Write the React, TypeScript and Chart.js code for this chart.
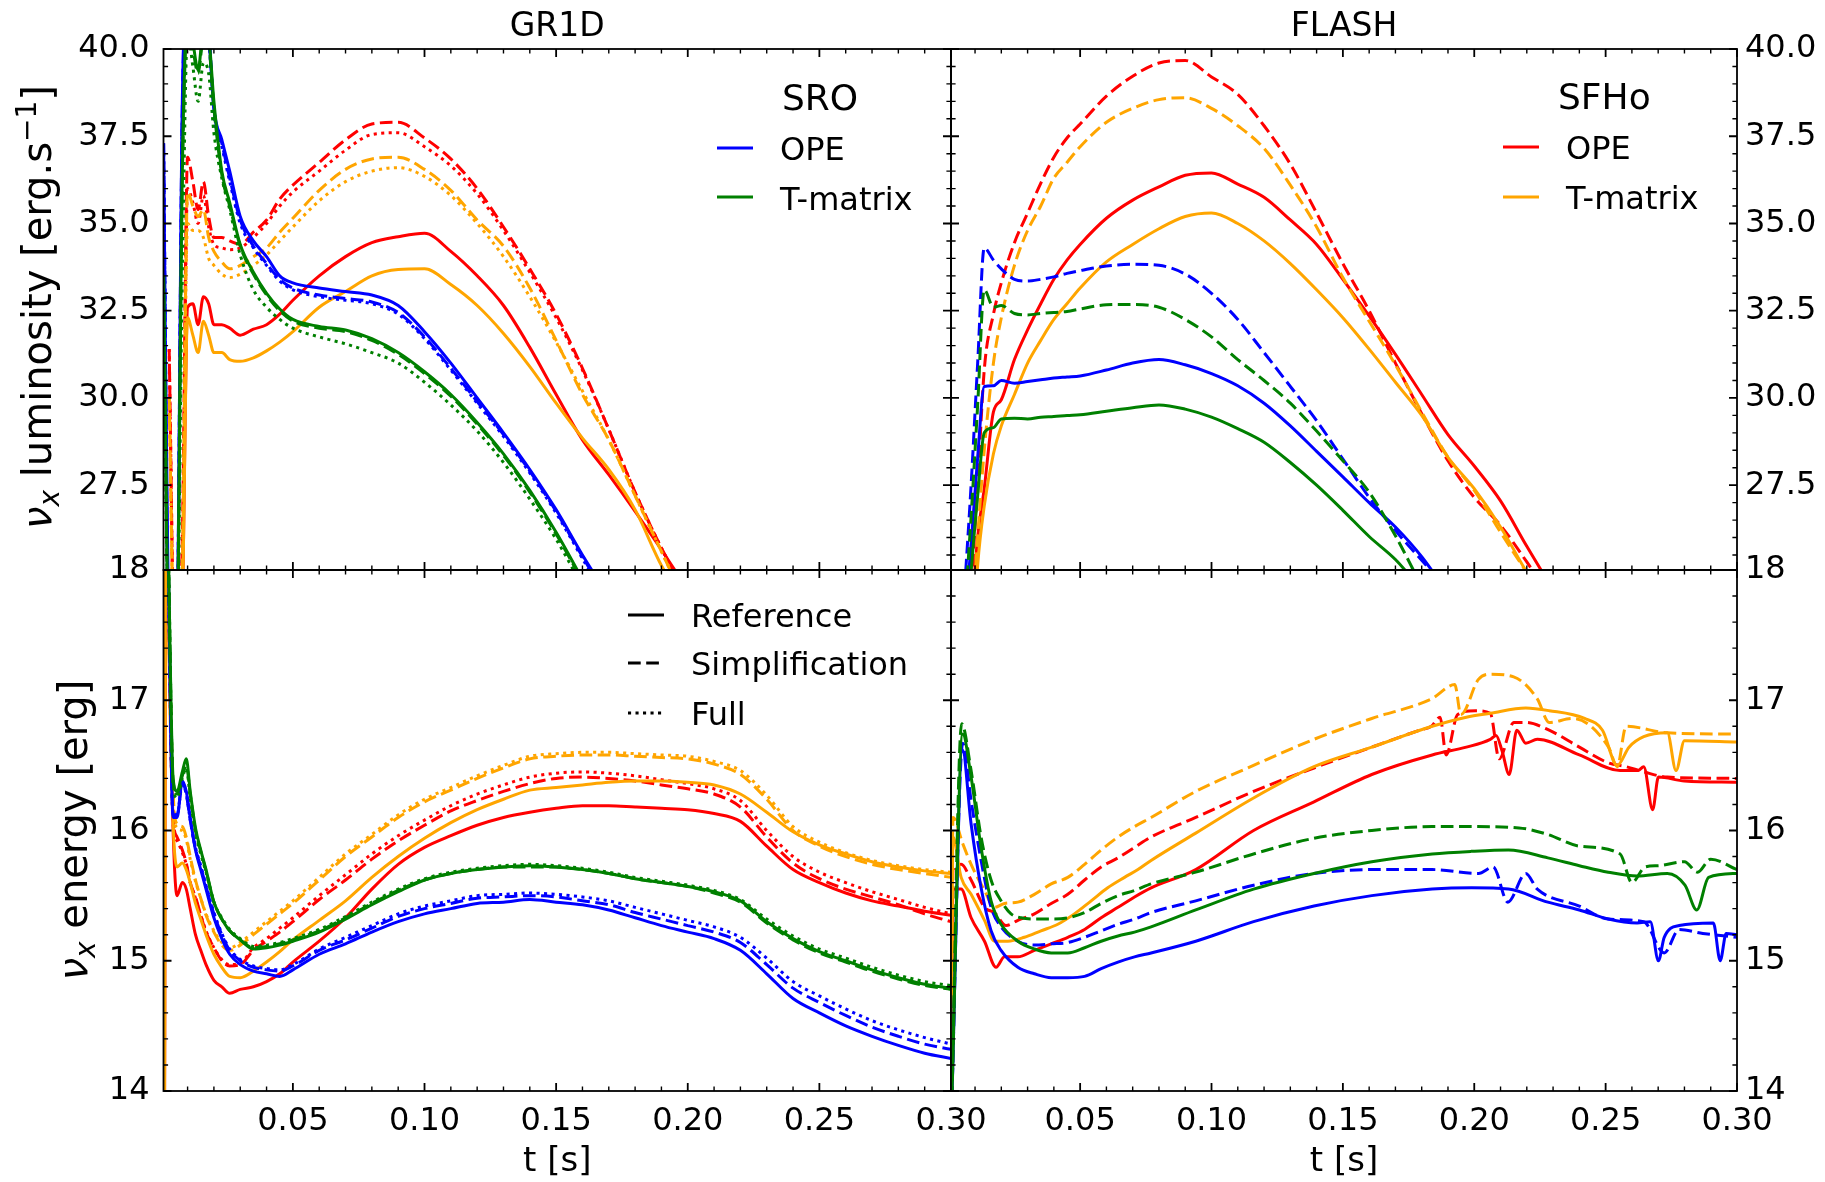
import React, { useEffect, useRef } from "react";
import { Chart, registerables } from "chart.js";
Chart.register(...registerables);

const FONT = "'DejaVu Sans', 'Noto Sans', sans-serif";
const W = 1825;
const H = 1182;

const BLUE = "#0000ff";
const GREEN = "#008000";
const RED = "#ff0000";
const ORANGE = "#ffa500";

// ---------- axes ----------
const X_MIN = 0.00085;
const X_MAX = 0.3;
const LUM_MIN = 25.07;
const LUM_MAX = 40;
const EN_MIN = 14;
const EN_MAX = 18;

const X_TICKS = [0.05, 0.1, 0.15, 0.2, 0.25, 0.3];
const X_TICK_LABELS = ["0.05", "0.10", "0.15", "0.20", "0.25", "0.30"];
const LUM_TICKS = [27.5, 30, 32.5, 35, 37.5, 40];
const LUM_TICK_LABELS = ["27.5", "30.0", "32.5", "35.0", "37.5", "40.0"];
const EN_TICKS = [14, 15, 16, 17, 18];
const EN_TICK_LABELS = ["14", "15", "16", "17", "18"];
const X_MINOR_STEP = 0.01;
const LUM_MINOR_STEP = 0.5;
const EN_MINOR_STEP = 0.2;

// ---------- GR1D luminosity ----------
const T_LUM_GR1D = [0.0009, 0.003, 0.0055, 0.008, 0.01, 0.012, 0.014, 0.016, 0.018, 0.02, 0.023, 0.026, 0.03, 0.035, 0.04, 0.045, 0.05, 0.06, 0.07, 0.08, 0.09, 0.1, 0.11, 0.12, 0.13, 0.14, 0.15, 0.16, 0.17, 0.18, 0.19, 0.2];
const LUM_G_SRO_OPE_REF = [37.3, 22, 21, 38.5, 42, 42, 42, 42, 40.5, 38.3, 37.4, 36.5, 35.2, 34.5, 34.05, 33.5, 33.3, 33.15, 33.05, 32.95, 32.65, 31.9, 31.0, 30.0, 29.0, 27.95, 26.8, 25.5, 24.3, null, null, null];
const LUM_G_SRO_OPE_SIMP = [37.3, 22, 21, 38.3, 42, 42, 42, 42, 40.6, 38.3, 37.3, 36.3, 35.1, 34.35, 33.85, 33.4, 33.15, 32.95, 32.85, 32.75, 32.45, 31.75, 30.85, 29.9, 28.95, 27.9, 26.75, 25.45, 24.2, null, null, null];
const LUM_G_SRO_OPE_FULL = [37.0, 22, 21, 38.0, 42, 42, 42, 42, 40.4, 38.1, 37.2, 36.2, 35.0, 34.3, 33.8, 33.35, 33.1, 32.9, 32.8, 32.7, 32.4, 31.7, 30.8, 29.85, 28.9, 27.85, 26.7, 25.4, 24.1, null, null, null];
const LUM_G_SRO_TM_REF = [33.5, 22, 21, 36.5, 41, 40.2, 39.4, 40.5, 40.3, 38.5, 36.5, 35.6, 34.4, 33.6, 33.0, 32.55, 32.25, 32.05, 31.95, 31.7, 31.3, 30.75, 30.1, 29.3, 28.4, 27.35, 26.15, 24.8, null, null, null, null];
const LUM_G_SRO_TM_SIMP = [33.5, 22, 21, 36.3, 40.8, 40.0, 39.3, 40.3, 40.1, 38.3, 36.4, 35.5, 34.35, 33.55, 32.95, 32.5, 32.2, 32.0, 31.9, 31.65, 31.25, 30.7, 30.05, 29.25, 28.35, 27.3, 26.1, 24.75, null, null, null, null];
const LUM_G_SRO_TM_FULL = [33.0, 22, 21, 33.5, 40.5, 39.5, 38.5, 39.6, 39.3, 37.6, 36.3, 35.4, 34.1, 33.1, 32.6, 32.25, 32.0, 31.75, 31.55, 31.3, 31.0, 30.45, 29.8, 29.05, 28.15, 27.1, 25.95, 24.6, null, null, null, null];
const LUM_G_SFHO_OPE_REF = [null, 22, 21, 24, 32.6, 32.7, 32.1, 32.9, 32.7, 32.1, 32.1, 32.0, 31.8, 31.97, 32.1, 32.4, 32.8, 33.5, 34.05, 34.45, 34.62, 34.72, 34.2, 33.5, 32.65, 31.45, 30.1, 28.8, 27.8, 26.75, 25.65, 24.5];
const LUM_G_SFHO_OPE_SIMP = [null, 31.4, 21, 26, 36.9, 36.2, 35.4, 36.2, 35.2, 34.6, 34.6, 34.5, 34.4, 34.75, 35.1, 35.7, 36.1, 36.75, 37.4, 37.85, 37.9, 37.45, 36.85, 36.0, 34.9, 33.7, 32.4, 30.85, 29.1, 27.3, 25.7, 24.3];
const LUM_G_SFHO_OPE_FULL = [null, 31.4, 21, 25, 36.0, 35.6, 35.0, 35.8, 34.9, 34.4, 34.3, 34.25, 34.3, 34.6, 35.0, 35.5, 35.9, 36.5, 37.1, 37.55, 37.6, 37.2, 36.65, 35.85, 34.8, 33.6, 32.3, 30.8, 29.1, 27.3, 25.7, 24.3];
const LUM_G_SFHO_TM_REF = [null, 22, 21, 24, 32.3, 31.8, 31.3, 32.2, 31.8, 31.3, 31.3, 31.1, 31.05, 31.15, 31.35, 31.6, 31.9, 32.6, 33.05, 33.5, 33.68, 33.7, 33.25, 32.65, 31.85, 30.9, 29.85, 28.85, 27.95, 26.8, 25.2, 24.0];
const LUM_G_SFHO_TM_SIMP = [null, 30.0, 21, 25, 35.9, 35.5, 35.2, 35.4, 34.6, 34.2, 33.9, 33.7, 33.8, 34.05, 34.3, 34.75, 35.15, 35.95, 36.55, 36.85, 36.9, 36.55, 35.95, 35.1, 34.35, 33.15, 31.65, 30.1, 28.8, 27.2, 25.6, 24.0];
const LUM_G_SFHO_TM_FULL = [null, 30.0, 21, 25, 35.0, 34.8, 34.8, 34.6, 34.0, 33.8, 33.55, 33.45, 33.55, 33.8, 34.1, 34.5, 34.9, 35.65, 36.2, 36.5, 36.6, 36.35, 35.8, 35.0, 34.05, 32.9, 31.6, 30.2, 28.8, 27.2, 25.6, 24.0];

// ---------- FLASH luminosity ----------
const T_LUM_FLASH = [0.006, 0.0085, 0.011, 0.0135, 0.017, 0.02, 0.025, 0.03, 0.035, 0.04, 0.045, 0.05, 0.06, 0.07, 0.08, 0.09, 0.1, 0.11, 0.12, 0.13, 0.14, 0.15, 0.16, 0.17, 0.18, 0.19, 0.2, 0.21, 0.22, 0.23];
const LUM_F_SRO_OPE_REF = [23.5, 25.8, 28.3, 30.33, 30.35, 30.5, 30.42, 30.47, 30.52, 30.57, 30.6, 30.63, 30.8, 31.0, 31.1, 30.95, 30.7, 30.35, 29.85, 29.2, 28.47, 27.74, 27.0, 26.3, 25.45, 24.4, null, null, null, null];
const LUM_F_SRO_OPE_SIMP = [24.5, 27.5, 31.0, 34.3, 33.95, 33.7, 33.4, 33.35, 33.4, 33.47, 33.57, 33.65, 33.78, 33.83, 33.8, 33.55, 33.0, 32.25, 31.3, 30.33, 29.35, 28.25, 27.15, 26.2, 25.35, 24.5, null, null, null, null];
const LUM_F_SRO_TM_REF = [22, 25.0, 27.2, 29.0, 29.15, 29.4, 29.42, 29.4, 29.45, 29.47, 29.5, 29.52, 29.62, 29.72, 29.8, 29.68, 29.45, 29.12, 28.73, 28.15, 27.5, 26.78, 26.03, 25.37, 24.5, null, null, null, null, null];
const LUM_F_SRO_TM_SIMP = [23.8, 26.6, 29.8, 33.1, 32.6, 32.65, 32.42, 32.38, 32.42, 32.45, 32.48, 32.55, 32.67, 32.68, 32.6, 32.25, 31.75, 31.1, 30.5, 29.85, 29.05, 28.2, 27.3, 26.05, 24.6, null, null, null, null, null];
const LUM_F_SFHO_OPE_REF = [20, 23.5, 26.0, 27.4, 29.6, 29.95, 31.1, 31.95, 32.7, 33.4, 33.95, 34.4, 35.15, 35.67, 36.05, 36.38, 36.45, 36.13, 35.75, 35.1, 34.4, 33.4, 32.35, 31.25, 30.1, 28.95, 28.05, 27.05, 25.75, 24.5];
const LUM_F_SFHO_OPE_SIMP = [21, 24.5, 27.5, 30.8, 32.4, 33.3, 34.45, 35.3, 36.15, 36.9, 37.45, 37.85, 38.65, 39.22, 39.6, 39.67, 39.2, 38.7, 37.8, 36.7, 35.3, 33.85, 32.5, 31.0, 29.55, 28.2, 27.15, 26.35, 25.3, 24.2];
const LUM_F_SFHO_TM_REF = [19, 22, 25.2, 26.9, 28.4, 29.2, 30.1, 31.0, 31.65, 32.25, 32.7, 33.15, 33.9, 34.4, 34.85, 35.2, 35.3, 35.0, 34.5, 33.85, 33.1, 32.3, 31.4, 30.45, 29.5, 28.3, 27.4, 26.3, 25.0, 23.8];
const LUM_F_SFHO_TM_SIMP = [20, 23, 26.0, 28.5, 31.0, 32.3, 33.8, 34.8, 35.5, 36.3, 36.75, 37.2, 37.9, 38.3, 38.55, 38.6, 38.3, 37.8, 37.15, 36.1, 34.9, 33.45, 32.2, 30.95, 29.6, 28.3, 27.35, 26.15, 25.0, 23.9];

// ---------- GR1D energy ----------
const T_EN_GR1D = [0.0009, 0.0012, 0.0018, 0.003, 0.0045, 0.006, 0.008, 0.0095, 0.011, 0.013, 0.015, 0.017, 0.02, 0.023, 0.026, 0.03, 0.035, 0.04, 0.045, 0.05, 0.06, 0.07, 0.08, 0.09, 0.1, 0.11, 0.12, 0.13, 0.14, 0.15, 0.16, 0.17, 0.18, 0.19, 0.2, 0.21, 0.22, 0.23, 0.24, 0.25, 0.26, 0.27, 0.28, 0.29, 0.3];
const EN_G_SRO_OPE_REF = [null, null, 19.5, 17.6, 16.1, 16.1, 16.38, 16.3, 16.1, 15.85, 15.7, 15.55, 15.33, 15.17, 15.05, 14.97, 14.92, 14.9, 14.88, 14.93, 15.05, 15.13, 15.22, 15.3, 15.36, 15.4, 15.44, 15.45, 15.47, 15.45, 15.43, 15.39, 15.33, 15.27, 15.22, 15.17, 15.08, 14.9, 14.71, 14.6, 14.5, 14.42, 14.35, 14.29, 14.25];
const EN_G_SRO_OPE_SIMP = [null, null, 19.5, 17.6, 16.12, 16.12, 16.36, 16.28, 16.08, 15.86, 15.72, 15.57, 15.36, 15.2, 15.08, 15.0, 14.95, 14.93, 14.92, 14.96, 15.08, 15.16, 15.25, 15.34, 15.4, 15.44, 15.48, 15.49, 15.5, 15.49, 15.46, 15.43, 15.37, 15.32, 15.27, 15.22, 15.14, 14.97, 14.79, 14.68, 14.58, 14.49, 14.42, 14.36, 14.32];
const EN_G_SRO_OPE_FULL = [null, null, 19.5, 17.6, 16.12, 16.12, 16.35, 16.28, 16.08, 15.87, 15.73, 15.58, 15.37, 15.21, 15.09, 15.01, 14.96, 14.94, 14.93, 14.97, 15.09, 15.18, 15.27, 15.36, 15.42, 15.46, 15.5, 15.51, 15.52, 15.51, 15.49, 15.46, 15.41, 15.36, 15.31, 15.26, 15.18, 15.02, 14.84, 14.73, 14.63, 14.54, 14.47, 14.41, 14.36];
const EN_G_SRO_TM_REF = [null, null, 19.5, 17.8, 16.4, 16.3, 16.45, 16.55, 16.3, 16.02, 15.85, 15.7, 15.45, 15.32, 15.23, 15.16, 15.09, 15.1, 15.12, 15.15, 15.22, 15.32, 15.43, 15.53, 15.62, 15.67, 15.7, 15.72, 15.73, 15.72, 15.7, 15.67, 15.63, 15.6, 15.57, 15.53, 15.46, 15.3, 15.17, 15.07, 15.0, 14.93, 14.87, 14.82, 14.79];
const EN_G_SRO_TM_SIMP = [null, null, 19.5, 17.8, 16.38, 16.28, 16.42, 16.5, 16.28, 16.0, 15.84, 15.69, 15.45, 15.32, 15.23, 15.16, 15.1, 15.11, 15.13, 15.16, 15.23, 15.33, 15.44, 15.54, 15.62, 15.67, 15.7, 15.72, 15.72, 15.72, 15.7, 15.67, 15.63, 15.6, 15.57, 15.52, 15.45, 15.29, 15.16, 15.06, 14.99, 14.92, 14.86, 14.81, 14.78];
const EN_G_SRO_TM_FULL = [null, null, 19.5, 17.8, 16.35, 16.25, 16.4, 16.48, 16.25, 15.98, 15.82, 15.68, 15.45, 15.33, 15.24, 15.17, 15.11, 15.12, 15.14, 15.17, 15.24, 15.34, 15.45, 15.55, 15.63, 15.68, 15.71, 15.73, 15.74, 15.73, 15.71, 15.68, 15.64, 15.61, 15.58, 15.54, 15.47, 15.32, 15.19, 15.09, 15.02, 14.95, 14.89, 14.84, 14.81];
const EN_G_SFHO_OPE_REF = [17.4, 13.8, 19.5, 17.4, 16.0, 15.5, 15.6, 15.55, 15.4, 15.2, 15.08, 14.97, 14.85, 14.8, 14.75, 14.78, 14.8, 14.84, 14.9, 14.99, 15.15, 15.33, 15.55, 15.74, 15.87, 15.96, 16.04, 16.1, 16.14, 16.17, 16.19, 16.19, 16.18, 16.17, 16.16, 16.13, 16.07, 15.88, 15.7, 15.6, 15.52, 15.46, 15.42, 15.38, 15.35];
const EN_G_SFHO_OPE_SIMP = [null, null, 19.5, 17.5, 16.1, 15.95, 15.85, 15.75, 15.6, 15.49, 15.35, 15.22, 15.1, 15.0, 14.96, 14.97, 15.08, 15.15, 15.22, 15.3, 15.47, 15.62, 15.78, 15.92, 16.04, 16.15, 16.23, 16.3, 16.36, 16.4, 16.41, 16.4, 16.38, 16.35, 16.32, 16.28, 16.18, 15.95, 15.75, 15.63, 15.55, 15.49, 15.43, 15.36, 15.3];
const EN_G_SFHO_OPE_FULL = [null, null, 19.5, 17.5, 16.05, 15.92, 15.83, 15.74, 15.6, 15.48, 15.35, 15.23, 15.1, 15.01, 14.97, 14.98, 15.1, 15.17, 15.25, 15.33, 15.5, 15.66, 15.82, 15.96, 16.08, 16.19, 16.28, 16.35, 16.41, 16.44, 16.45, 16.44, 16.42, 16.39, 16.36, 16.32, 16.23, 16.0, 15.8, 15.68, 15.6, 15.53, 15.47, 15.41, 15.36];
const EN_G_SFHO_TM_REF = [17.5, 13.8, 19.5, 17.3, 16.05, 15.72, 15.75, 15.7, 15.6, 15.44, 15.32, 15.2, 15.05, 14.95, 14.88, 14.87, 14.92, 14.99, 15.07, 15.16, 15.31, 15.46, 15.64, 15.8, 15.94, 16.06, 16.16, 16.24, 16.31, 16.33, 16.35, 16.37, 16.38, 16.38, 16.37, 16.35, 16.28, 16.14, 15.99, 15.89, 15.82, 15.76, 15.72, 15.69, 15.67];
const EN_G_SFHO_TM_SIMP = [null, null, 19.5, 17.6, 16.3, 16.05, 16.03, 15.95, 15.8, 15.62, 15.48, 15.35, 15.22, 15.12, 15.08, 15.12, 15.2, 15.28, 15.36, 15.44, 15.62, 15.8, 15.95, 16.1, 16.22, 16.31, 16.4, 16.48, 16.55, 16.57, 16.58, 16.58, 16.57, 16.56, 16.55, 16.51, 16.43, 16.24, 16.0, 15.88, 15.8, 15.74, 15.7, 15.67, 15.64];
const EN_G_SFHO_TM_FULL = [null, null, 19.5, 17.6, 16.25, 16.02, 16.0, 15.93, 15.78, 15.61, 15.48, 15.36, 15.23, 15.14, 15.1, 15.14, 15.22, 15.3, 15.38, 15.46, 15.64, 15.82, 15.97, 16.12, 16.24, 16.33, 16.42, 16.5, 16.57, 16.59, 16.6, 16.6, 16.59, 16.58, 16.57, 16.53, 16.46, 16.27, 16.03, 15.91, 15.83, 15.77, 15.73, 15.7, 15.68];

// ---------- FLASH energy ([t, E] pairs) ----------
const EN_F_SRO_OPE_REF = [[0.001, 13.8], [0.0052, 16.62], [0.0085, 16.05], [0.0123, 15.56], [0.0161, 15.23], [0.0199, 15.08], [0.0263, 14.95], [0.0326, 14.9], [0.039, 14.87], [0.0453, 14.87], [0.0517, 14.88], [0.058, 14.94], [0.0644, 14.99], [0.0707, 15.03], [0.077, 15.06], [0.094, 15.15], [0.116, 15.3], [0.139, 15.42], [0.161, 15.5], [0.184, 15.55], [0.199, 15.56], [0.213, 15.55], [0.228, 15.45], [0.24, 15.39], [0.251, 15.32], [0.262, 15.29], [0.267, 15.3], [0.2701, 15.0], [0.2723, 15.18], [0.278, 15.27], [0.291, 15.29], [0.2936, 15.0], [0.2959, 15.21], [0.3, 15.2]];
const EN_F_SRO_OPE_SIMP = [[0.001, 13.8], [0.0053, 16.67], [0.0085, 16.23], [0.0123, 15.77], [0.0161, 15.41], [0.0199, 15.26], [0.0263, 15.15], [0.0326, 15.12], [0.039, 15.13], [0.0453, 15.14], [0.0517, 15.18], [0.058, 15.23], [0.0644, 15.28], [0.0707, 15.32], [0.077, 15.37], [0.094, 15.46], [0.116, 15.58], [0.139, 15.67], [0.161, 15.7], [0.184, 15.7], [0.2016, 15.67], [0.2072, 15.72], [0.2128, 15.45], [0.2196, 15.67], [0.224, 15.55], [0.24, 15.42], [0.251, 15.32], [0.2645, 15.3], [0.2723, 15.06], [0.278, 15.24], [0.287, 15.21], [0.3, 15.18]];
const EN_F_SRO_TM_REF = [[0.001, 13.8], [0.0053, 16.74], [0.0085, 16.41], [0.0123, 15.87], [0.0161, 15.46], [0.0199, 15.28], [0.0263, 15.15], [0.0326, 15.09], [0.039, 15.06], [0.0453, 15.06], [0.0517, 15.1], [0.058, 15.15], [0.0644, 15.19], [0.0707, 15.22], [0.077, 15.26], [0.094, 15.39], [0.116, 15.55], [0.139, 15.67], [0.161, 15.76], [0.184, 15.82], [0.199, 15.84], [0.213, 15.85], [0.228, 15.79], [0.24, 15.73], [0.251, 15.68], [0.262, 15.65], [0.2735, 15.67], [0.2802, 15.58], [0.2847, 15.39], [0.2892, 15.64], [0.3, 15.67]];
const EN_F_SRO_TM_SIMP = [[0.001, 13.8], [0.0049, 16.82], [0.0085, 16.46], [0.0123, 15.95], [0.0161, 15.62], [0.0199, 15.46], [0.0237, 15.36], [0.0275, 15.33], [0.0339, 15.32], [0.039, 15.32], [0.0453, 15.33], [0.0517, 15.37], [0.058, 15.44], [0.0644, 15.5], [0.0707, 15.54], [0.077, 15.59], [0.094, 15.68], [0.116, 15.82], [0.139, 15.94], [0.161, 16.0], [0.184, 16.03], [0.199, 16.03], [0.217, 16.02], [0.228, 15.97], [0.24, 15.88], [0.2555, 15.82], [0.26, 15.6], [0.265, 15.72], [0.27, 15.73], [0.28, 15.76], [0.285, 15.68], [0.29, 15.78], [0.3, 15.7]];
const EN_F_SFHO_OPE_REF = [[0.0009, 13.8], [0.0016, 15.55], [0.0047, 15.55], [0.0085, 15.33], [0.0136, 15.15], [0.018, 14.95], [0.0212, 15.03], [0.0263, 15.03], [0.0326, 15.08], [0.039, 15.13], [0.0453, 15.18], [0.0517, 15.24], [0.058, 15.33], [0.0644, 15.41], [0.0707, 15.49], [0.077, 15.56], [0.094, 15.7], [0.116, 16.0], [0.139, 16.22], [0.161, 16.43], [0.184, 16.58], [0.197, 16.64], [0.2061, 16.7], [0.2083, 16.73], [0.2106, 16.61], [0.2133, 16.43], [0.2162, 16.77], [0.2196, 16.67], [0.224, 16.7], [0.24, 16.58], [0.2555, 16.46], [0.2623, 16.46], [0.2645, 16.49], [0.2679, 16.16], [0.2701, 16.41], [0.28, 16.38], [0.3, 16.37]];
const EN_F_SFHO_OPE_SIMP = [[0.0009, 13.8], [0.0016, 15.7], [0.0047, 15.74], [0.0085, 15.62], [0.0136, 15.41], [0.0174, 15.37], [0.0218, 15.27], [0.0263, 15.31], [0.0326, 15.36], [0.039, 15.44], [0.0453, 15.51], [0.0517, 15.62], [0.058, 15.72], [0.0644, 15.79], [0.0707, 15.87], [0.077, 15.95], [0.094, 16.1], [0.116, 16.3], [0.139, 16.48], [0.161, 16.64], [0.1792, 16.77], [0.1837, 16.8], [0.187, 16.87], [0.1893, 16.58], [0.1937, 16.89], [0.2005, 16.92], [0.2061, 16.9], [0.2095, 16.55], [0.2151, 16.83], [0.2196, 16.83], [0.2285, 16.77], [0.24, 16.64], [0.251, 16.52], [0.2578, 16.49], [0.2645, 16.45], [0.2735, 16.41], [0.3, 16.4]];
const EN_F_SFHO_TM_REF = [[0.0009, 13.8], [0.0016, 15.95], [0.0047, 15.64], [0.0085, 15.51], [0.0136, 15.31], [0.0174, 15.15], [0.0225, 15.15], [0.0288, 15.18], [0.0351, 15.23], [0.0415, 15.28], [0.0478, 15.36], [0.0542, 15.46], [0.0605, 15.56], [0.0669, 15.64], [0.072, 15.7], [0.077, 15.77], [0.094, 15.98], [0.116, 16.25], [0.139, 16.49], [0.161, 16.64], [0.184, 16.8], [0.197, 16.87], [0.2061, 16.9], [0.2196, 16.94], [0.2285, 16.92], [0.242, 16.86], [0.2488, 16.77], [0.2544, 16.5], [0.2589, 16.64], [0.2645, 16.72], [0.2735, 16.75], [0.2768, 16.46], [0.28, 16.69], [0.3, 16.68]];
const EN_F_SFHO_TM_SIMP = [[0.0009, 13.8], [0.0016, 16.1], [0.0053, 15.9], [0.0085, 15.74], [0.0136, 15.54], [0.0174, 15.41], [0.0212, 15.44], [0.0263, 15.45], [0.0326, 15.51], [0.039, 15.59], [0.0453, 15.64], [0.0517, 15.74], [0.058, 15.85], [0.0644, 15.95], [0.0707, 16.03], [0.077, 16.1], [0.094, 16.3], [0.116, 16.5], [0.139, 16.7], [0.161, 16.86], [0.1837, 17.01], [0.1926, 17.12], [0.1949, 16.89], [0.2016, 17.16], [0.2061, 17.2], [0.215, 17.18], [0.224, 17.01], [0.2285, 16.83], [0.2375, 16.86], [0.2511, 16.64], [0.2544, 16.49], [0.2578, 16.8], [0.2735, 16.75], [0.3, 16.74]];

// ---------- layout (pixels) ----------
const LEFT = 163.5;
const MID = 951;
const RIGHT = 1737;
const TOP = 49;
const HMID = 570;
const BOTTOM = 1091;

const DASH: Record<string, number[]> = { solid: [], dashed: [12.7, 5.5], dotted: [3.1, 4.4] };

function fromGrid(ts: number[], vs: (number | null)[]) {
  const out: { x: number; y: number }[] = [];
  ts.forEach((t, i) => {
    const v = vs[i];
    if (v !== null && v !== undefined) out.push({ x: t, y: v });
  });
  return out;
}
function fromPairs(ps: number[][]) {
  return ps.map(([x, y]) => ({ x, y }));
}

function minorTicks(min: number, max: number, step: number, majors: number[]) {
  const out: number[] = [];
  const k0 = Math.ceil(min / step - 1e-9);
  const k1 = Math.floor(max / step + 1e-9);
  for (let k = k0; k <= k1; k++) {
    const v = +(k * step).toFixed(6);
    if (!majors.some((m) => Math.abs(m - v) < 1e-7)) out.push(v);
  }
  return out;
}

type Seg = { t: string; size: number; it?: boolean; dy?: number };
function fontStr(size: number, it?: boolean) {
  return `${it ? "italic " : ""}${size}px ${FONT}`;
}
function drawRich(ctx: CanvasRenderingContext2D, segs: Seg[], x: number, y: number, rotate: boolean) {
  ctx.save();
  ctx.translate(x, y);
  if (rotate) ctx.rotate(-Math.PI / 2);
  ctx.fillStyle = "#000";
  ctx.textBaseline = "alphabetic";
  ctx.textAlign = "left";
  const widths = segs.map((s) => {
    ctx.font = fontStr(s.size, s.it);
    return ctx.measureText(s.t).width;
  });
  const total = widths.reduce((a, b) => a + b, 0);
  let cx = -total / 2;
  segs.forEach((s, i) => {
    ctx.font = fontStr(s.size, s.it);
    ctx.fillText(s.t, cx, s.dy || 0);
    cx += widths[i];
  });
  ctx.restore();
}
function drawText(ctx: CanvasRenderingContext2D, s: string, x: number, y: number, size: number, align: CanvasTextAlign = "left") {
  ctx.save();
  ctx.fillStyle = "#000";
  ctx.font = fontStr(size);
  ctx.textAlign = align;
  ctx.textBaseline = "alphabetic";
  ctx.fillText(s, x, y);
  ctx.restore();
}
function legendLine(ctx: CanvasRenderingContext2D, x1: number, x2: number, y: number, color: string, dash: string) {
  ctx.save();
  ctx.strokeStyle = color;
  ctx.lineWidth = 3;
  ctx.lineCap = "butt";
  ctx.setLineDash(DASH[dash]);
  ctx.beginPath();
  ctx.moveTo(x1, y);
  ctx.lineTo(x2, y);
  ctx.stroke();
  ctx.restore();
}

const LUM_LABEL: Seg[] = [
  { t: "ν", size: 40, it: true },
  { t: "x", size: 28, it: true, dy: 8 },
  { t: " luminosity [erg.s", size: 40 },
  { t: "−1", size: 28, dy: -15 },
  { t: "]", size: 40 },
];
const EN_LABEL: Seg[] = [
  { t: "ν", size: 40, it: true },
  { t: "x", size: 28, it: true, dy: 8 },
  { t: " energy [erg]", size: 40 },
];

type LineSpec = { d: { x: number; y: number }[]; c: string; s: string };
type PanelSpec = {
  key: string;
  side: "left" | "right";
  row: "top" | "bottom";
  yMin: number;
  yMax: number;
  yTicks: number[];
  yLabels: string[];
  yMinorStep: number;
  lines: LineSpec[];
  decorate: (ctx: CanvasRenderingContext2D) => void;
};

const PANELS: PanelSpec[] = [
  {
    key: "tl",
    side: "left",
    row: "top",
    yMin: LUM_MIN,
    yMax: LUM_MAX,
    yTicks: LUM_TICKS,
    yLabels: LUM_TICK_LABELS,
    yMinorStep: LUM_MINOR_STEP,
    lines: [
      { d: fromGrid(T_LUM_GR1D, LUM_G_SRO_TM_REF), c: GREEN, s: "solid" },
      { d: fromGrid(T_LUM_GR1D, LUM_G_SRO_TM_SIMP), c: GREEN, s: "dashed" },
      { d: fromGrid(T_LUM_GR1D, LUM_G_SRO_TM_FULL), c: GREEN, s: "dotted" },
      { d: fromGrid(T_LUM_GR1D, LUM_G_SRO_OPE_REF), c: BLUE, s: "solid" },
      { d: fromGrid(T_LUM_GR1D, LUM_G_SRO_OPE_SIMP), c: BLUE, s: "dashed" },
      { d: fromGrid(T_LUM_GR1D, LUM_G_SRO_OPE_FULL), c: BLUE, s: "dotted" },
      { d: fromGrid(T_LUM_GR1D, LUM_G_SFHO_TM_REF), c: ORANGE, s: "solid" },
      { d: fromGrid(T_LUM_GR1D, LUM_G_SFHO_TM_SIMP), c: ORANGE, s: "dashed" },
      { d: fromGrid(T_LUM_GR1D, LUM_G_SFHO_TM_FULL), c: ORANGE, s: "dotted" },
      { d: fromGrid(T_LUM_GR1D, LUM_G_SFHO_OPE_REF), c: RED, s: "solid" },
      { d: fromGrid(T_LUM_GR1D, LUM_G_SFHO_OPE_SIMP), c: RED, s: "dashed" },
      { d: fromGrid(T_LUM_GR1D, LUM_G_SFHO_OPE_FULL), c: RED, s: "dotted" },
    ],
    decorate: (ctx) => {
      drawText(ctx, "GR1D", (LEFT + MID) / 2, 36, 33, "center");
      drawRich(ctx, LUM_LABEL, 51, 307, true);
      drawText(ctx, "SRO", 782, 110, 36);
      legendLine(ctx, 717, 753, 148, BLUE, "solid");
      drawText(ctx, "OPE", 780, 160, 32);
      legendLine(ctx, 717, 753, 197, GREEN, "solid");
      drawText(ctx, "T-matrix", 780, 210, 32);
    },
  },
  {
    key: "tr",
    side: "right",
    row: "top",
    yMin: LUM_MIN,
    yMax: LUM_MAX,
    yTicks: LUM_TICKS,
    yLabels: LUM_TICK_LABELS,
    yMinorStep: LUM_MINOR_STEP,
    lines: [
      { d: fromGrid(T_LUM_FLASH, LUM_F_SRO_TM_REF), c: GREEN, s: "solid" },
      { d: fromGrid(T_LUM_FLASH, LUM_F_SRO_TM_SIMP), c: GREEN, s: "dashed" },
      { d: fromGrid(T_LUM_FLASH, LUM_F_SRO_OPE_REF), c: BLUE, s: "solid" },
      { d: fromGrid(T_LUM_FLASH, LUM_F_SRO_OPE_SIMP), c: BLUE, s: "dashed" },
      { d: fromGrid(T_LUM_FLASH, LUM_F_SFHO_TM_REF), c: ORANGE, s: "solid" },
      { d: fromGrid(T_LUM_FLASH, LUM_F_SFHO_TM_SIMP), c: ORANGE, s: "dashed" },
      { d: fromGrid(T_LUM_FLASH, LUM_F_SFHO_OPE_REF), c: RED, s: "solid" },
      { d: fromGrid(T_LUM_FLASH, LUM_F_SFHO_OPE_SIMP), c: RED, s: "dashed" },
    ],
    decorate: (ctx) => {
      drawText(ctx, "FLASH", (MID + RIGHT) / 2, 36, 33, "center");
      drawText(ctx, "SFHo", 1558, 109, 36);
      legendLine(ctx, 1503, 1539, 147, RED, "solid");
      drawText(ctx, "OPE", 1566, 159, 32);
      legendLine(ctx, 1503, 1539, 197, ORANGE, "solid");
      drawText(ctx, "T-matrix", 1566, 209, 32);
    },
  },
  {
    key: "bl",
    side: "left",
    row: "bottom",
    yMin: EN_MIN,
    yMax: EN_MAX,
    yTicks: EN_TICKS,
    yLabels: EN_TICK_LABELS,
    yMinorStep: EN_MINOR_STEP,
    lines: [
      { d: fromGrid(T_EN_GR1D, EN_G_SRO_TM_REF), c: GREEN, s: "solid" },
      { d: fromGrid(T_EN_GR1D, EN_G_SRO_TM_SIMP), c: GREEN, s: "dashed" },
      { d: fromGrid(T_EN_GR1D, EN_G_SRO_TM_FULL), c: GREEN, s: "dotted" },
      { d: fromGrid(T_EN_GR1D, EN_G_SRO_OPE_REF), c: BLUE, s: "solid" },
      { d: fromGrid(T_EN_GR1D, EN_G_SRO_OPE_SIMP), c: BLUE, s: "dashed" },
      { d: fromGrid(T_EN_GR1D, EN_G_SRO_OPE_FULL), c: BLUE, s: "dotted" },
      { d: fromGrid(T_EN_GR1D, EN_G_SFHO_TM_REF), c: ORANGE, s: "solid" },
      { d: fromGrid(T_EN_GR1D, EN_G_SFHO_TM_SIMP), c: ORANGE, s: "dashed" },
      { d: fromGrid(T_EN_GR1D, EN_G_SFHO_TM_FULL), c: ORANGE, s: "dotted" },
      { d: fromGrid(T_EN_GR1D, EN_G_SFHO_OPE_REF), c: RED, s: "solid" },
      { d: fromGrid(T_EN_GR1D, EN_G_SFHO_OPE_SIMP), c: RED, s: "dashed" },
      { d: fromGrid(T_EN_GR1D, EN_G_SFHO_OPE_FULL), c: RED, s: "dotted" },
    ],
    decorate: (ctx) => {
      drawRich(ctx, EN_LABEL, 87, 830, true);
      drawText(ctx, "t [s]", (LEFT + MID) / 2, 1171, 34, "center");
      legendLine(ctx, 628, 664, 615, "#000", "solid");
      drawText(ctx, "Reference", 691, 627, 32);
      legendLine(ctx, 628, 664, 663, "#000", "dashed");
      drawText(ctx, "Simplification", 691, 675, 32);
      legendLine(ctx, 628, 664, 713, "#000", "dotted");
      drawText(ctx, "Full", 691, 725, 32);
    },
  },
  {
    key: "br",
    side: "right",
    row: "bottom",
    yMin: EN_MIN,
    yMax: EN_MAX,
    yTicks: EN_TICKS,
    yLabels: EN_TICK_LABELS,
    yMinorStep: EN_MINOR_STEP,
    lines: [
      { d: fromPairs(EN_F_SRO_TM_REF), c: GREEN, s: "solid" },
      { d: fromPairs(EN_F_SRO_TM_SIMP), c: GREEN, s: "dashed" },
      { d: fromPairs(EN_F_SRO_OPE_REF), c: BLUE, s: "solid" },
      { d: fromPairs(EN_F_SRO_OPE_SIMP), c: BLUE, s: "dashed" },
      { d: fromPairs(EN_F_SFHO_TM_REF), c: ORANGE, s: "solid" },
      { d: fromPairs(EN_F_SFHO_TM_SIMP), c: ORANGE, s: "dashed" },
      { d: fromPairs(EN_F_SFHO_OPE_REF), c: RED, s: "solid" },
      { d: fromPairs(EN_F_SFHO_OPE_SIMP), c: RED, s: "dashed" },
    ],
    decorate: (ctx) => {
      drawText(ctx, "t [s]", (MID + RIGHT) / 2, 1171, 34, "center");
    },
  },
];

function decorPlugin(p: PanelSpec) {
  return {
    id: "decor_" + p.key,
    afterDraw(chart: any) {
      const ctx: CanvasRenderingContext2D = chart.ctx;
      const a = chart.chartArea;
      const xs = chart.scales.x;
      const ys = chart.scales.y;
      const xMinor = minorTicks(X_MIN, X_MAX, X_MINOR_STEP, X_TICKS);
      const yMinor = minorTicks(p.yMin, p.yMax, p.yMinorStep, p.yTicks);
      ctx.save();
      ctx.strokeStyle = "#000";
      ctx.setLineDash([]);
      const vx = (vals: number[], len: number, lw: number) => {
        ctx.lineWidth = lw;
        ctx.beginPath();
        for (const v of vals) {
          const px = xs.getPixelForValue(v);
          ctx.moveTo(px, a.top);
          ctx.lineTo(px, a.top + len);
          ctx.moveTo(px, a.bottom);
          ctx.lineTo(px, a.bottom - len);
        }
        ctx.stroke();
      };
      const vy = (vals: number[], len: number, lw: number) => {
        ctx.lineWidth = lw;
        ctx.beginPath();
        for (const v of vals) {
          const py = ys.getPixelForValue(v);
          ctx.moveTo(a.left, py);
          ctx.lineTo(a.left + len, py);
          ctx.moveTo(a.right, py);
          ctx.lineTo(a.right - len, py);
        }
        ctx.stroke();
      };
      vx(xMinor, 4.6, 1.4);
      vx(X_TICKS, 8, 1.8);
      vy(yMinor, 4.6, 1.4);
      vy(p.yTicks, 8, 1.8);
      ctx.lineWidth = 1.8;
      ctx.strokeRect(a.left, a.top, a.right - a.left, a.bottom - a.top);
      ctx.restore();
      p.decorate(ctx);
    },
  };
}

function buildConfig(p: PanelSpec): any {
  const isLeft = p.side === "left";
  const isTop = p.row === "top";
  const padding = {
    left: isLeft ? 0 : MID,
    right: isLeft ? W - MID : 0,
    top: isTop ? TOP : HMID,
    bottom: isTop ? H - HMID : 0,
  };
  return {
    type: "line",
    data: {
      datasets: p.lines.map((l) => ({
        data: l.d,
        borderColor: l.c,
        backgroundColor: l.c,
        borderWidth: 3,
        borderDash: DASH[l.s],
        borderCapStyle: "butt",
        borderJoinStyle: "round",
        pointRadius: 0,
        pointHoverRadius: 0,
        fill: false,
        cubicInterpolationMode: "monotone",
        clip: 0,
      })),
    },
    options: {
      responsive: false,
      maintainAspectRatio: false,
      animation: false,
      devicePixelRatio: 1,
      events: [],
      layout: { padding },
      plugins: {
        legend: { display: false },
        tooltip: { enabled: false },
        title: { display: false },
      },
      scales: {
        x: {
          type: "linear",
          position: "bottom",
          min: X_MIN,
          max: X_MAX,
          display: !isTop,
          grid: { display: false, drawTicks: false },
          border: { display: false },
          afterBuildTicks: (s: any) => {
            s.ticks = X_TICKS.map((v) => ({ value: v }));
          },
          afterFit: (s: any) => {
            s.height = isTop ? 0 : H - BOTTOM;
          },
          ticks: {
            font: { family: FONT, size: 32 },
            color: "#000",
            padding: 11,
            autoSkip: false,
            maxRotation: 0,
            minRotation: 0,
            callback: (_v: any, i: number) => X_TICK_LABELS[i],
          },
        },
        y: {
          type: "linear",
          position: p.side,
          min: p.yMin,
          max: p.yMax,
          grid: { display: false, drawTicks: false },
          border: { display: false },
          afterBuildTicks: (s: any) => {
            s.ticks = p.yTicks.map((v) => ({ value: v }));
          },
          afterFit: (s: any) => {
            s.width = isLeft ? LEFT : W - RIGHT;
          },
          ticks: {
            font: { family: FONT, size: 32 },
            color: "#000",
            padding: isLeft ? 14 : 8,
            autoSkip: false,
            callback: (_v: any, i: number) => p.yLabels[i],
          },
        },
      },
    },
    plugins: [decorPlugin(p)],
  };
}

export default function App() {
  const r0 = useRef<HTMLCanvasElement>(null);
  const r1 = useRef<HTMLCanvasElement>(null);
  const r2 = useRef<HTMLCanvasElement>(null);
  const r3 = useRef<HTMLCanvasElement>(null);
  const refs = [r0, r1, r2, r3];
  useEffect(() => {
    const charts = PANELS.map((p, i) => {
      const c = refs[i].current as HTMLCanvasElement;
      return new Chart(c.getContext("2d") as CanvasRenderingContext2D, buildConfig(p));
    });
    return () => charts.forEach((c) => c.destroy());
  }, []);
  return (
    <div style={{ position: "absolute", left: 0, top: 0, width: W, height: H, background: "#fff", overflow: "hidden" }}>
      {PANELS.map((p, i) => (
        <canvas
          key={p.key}
          ref={refs[i]}
          width={W}
          height={H}
          style={{ position: "absolute", left: 0, top: 0, width: W, height: H }}
        />
      ))}
    </div>
  );
}
